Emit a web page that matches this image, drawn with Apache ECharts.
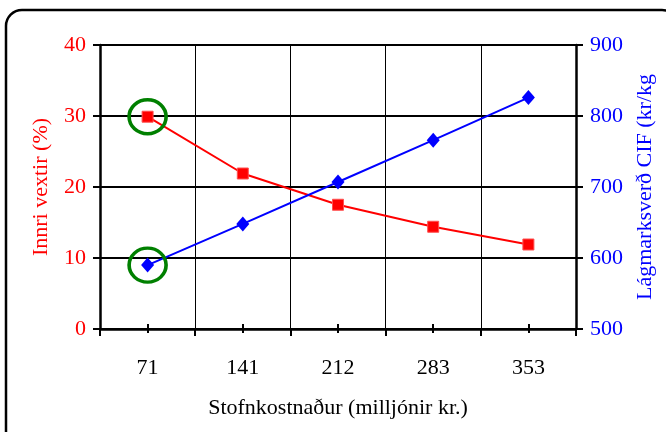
<!DOCTYPE html>
<html>
<head>
<meta charset="utf-8">
<script src="https://cdn.jsdelivr.net/npm/echarts@6/dist/echarts.min.js"></script>
<style>
  html, body { margin: 0; padding: 0; background: #fff; }
  #chart { width: 666px; height: 432px; }
</style>
</head>
<body>
<div id="chart"></div>
<script>
// Stofnkostnaður (milljónir kr.)
const categories = ['71', '141', '212', '283', '353'];
// Innri vextir (%)
const innriVextir = [29.9, 21.9, 17.5, 14.4, 11.9];
// Lágmarksverð CIF (kr/kg)
const lagmarksverd = [590, 648, 707, 766, 826];

const leftTicks = { min: 0, max: 40, interval: 10 };
const rightTicks = { min: 500, max: 900, interval: 100 };

const serif = '"Liberation Serif", "Times New Roman", serif';
const black = '#000';

const chart = echarts.init(document.getElementById('chart'), null, { renderer: 'canvas' });

const ring = {
  symbol: 'circle',
  symbolSize: [37, 34],
  itemStyle: { color: 'rgba(0,0,0,0)', borderColor: '#008000', borderWidth: 3.5 },
  label: { show: false }
};

chart.setOption({
  animation: false,
  backgroundColor: '#fff',
  graphic: [
    {
      type: 'rect',
      shape: { x: 6, y: 10, width: 672, height: 440, r: 16 },
      style: { fill: 'none', stroke: black, lineWidth: 2.5 },
      silent: true
    }
  ],
  grid: { left: 100, right: 90, top: 45, bottom: 103, containLabel: false },
  xAxis: [
    {
      type: 'category',
      data: categories,
      boundaryGap: true,
      position: 'bottom',
      name: 'Stofnkostnaður (milljónir kr.)',
      nameLocation: 'middle',
      nameGap: 68,
      nameTextStyle: { fontFamily: serif, fontSize: 22, color: black },
      axisLine: { show: true, lineStyle: { color: black, width: 2.5 } },
      axisTick: { show: true, length: 7, lineStyle: { color: black, width: 2 } },
      axisLabel: { fontFamily: serif, fontSize: 22, color: black, margin: 28 },
      splitLine: { show: true, lineStyle: { color: black, width: 1 } }
    },
    {
      // short ticks below the axis at each category centre
      type: 'category',
      data: categories,
      position: 'bottom',
      axisLine: { show: false },
      axisTick: { show: true, alignWithLabel: true, length: 4, lineStyle: { color: black, width: 2 } },
      axisLabel: { show: false },
      splitLine: { show: false }
    },
    {
      // short ticks above the axis at each category centre
      type: 'category',
      data: categories,
      position: 'bottom',
      axisLine: { show: false },
      axisTick: { show: true, inside: true, alignWithLabel: true, length: 5, lineStyle: { color: black, width: 2 } },
      axisLabel: { show: false },
      splitLine: { show: false }
    }
  ],
  yAxis: [
    {
      type: 'value',
      position: 'left',
      min: leftTicks.min,
      max: leftTicks.max,
      interval: leftTicks.interval,
      name: 'Innri vextir (%)',
      nameLocation: 'middle',
      nameRotate: 90,
      nameGap: 48,
      nameTextStyle: { fontFamily: serif, fontSize: 22, color: '#ff0000' },
      axisLine: { show: true, lineStyle: { color: black, width: 2.5 } },
      axisTick: { show: true, length: 7, lineStyle: { color: black, width: 2 } },
      axisLabel: { fontFamily: serif, fontSize: 22, color: '#ff0000', margin: 14 },
      splitLine: { show: true, lineStyle: { color: black, width: 2 } }
    },
    {
      type: 'value',
      position: 'right',
      min: rightTicks.min,
      max: rightTicks.max,
      interval: rightTicks.interval,
      name: 'Lágmarksverð CIF (kr/kg',
      nameLocation: 'middle',
      nameRotate: 90,
      nameGap: 58,
      nameTextStyle: { fontFamily: serif, fontSize: 22, color: '#0000ff' },
      axisLine: { show: true, lineStyle: { color: black, width: 2.5 } },
      axisTick: { show: true, length: 7, lineStyle: { color: black, width: 2 } },
      axisLabel: { fontFamily: serif, fontSize: 22, color: '#0000ff', margin: 14 },
      splitLine: { show: false }
    }
  ],
  series: [
    {
      name: 'Innri vextir',
      type: 'line',
      xAxisIndex: 0,
      yAxisIndex: 0,
      data: innriVextir,
      symbol: 'rect',
      symbolSize: 11,
      showAllSymbol: true,
      lineStyle: { color: '#ff0000', width: 2 },
      itemStyle: { color: '#ff0000', borderColor: '#ff5050', borderWidth: 1 },
      markPoint: Object.assign({ data: [{ coord: [0, innriVextir[0]] }] }, ring),
      z: 3
    },
    {
      name: 'Lágmarksverð CIF',
      type: 'line',
      xAxisIndex: 0,
      yAxisIndex: 1,
      data: lagmarksverd,
      symbol: 'diamond',
      symbolSize: [13, 15],
      showAllSymbol: true,
      lineStyle: { color: '#0000ff', width: 2 },
      itemStyle: { color: '#0000ff' },
      markPoint: Object.assign({ data: [{ coord: [0, lagmarksverd[0]] }] }, ring),
      z: 3
    }
  ]
});
</script>
</body>
</html>
